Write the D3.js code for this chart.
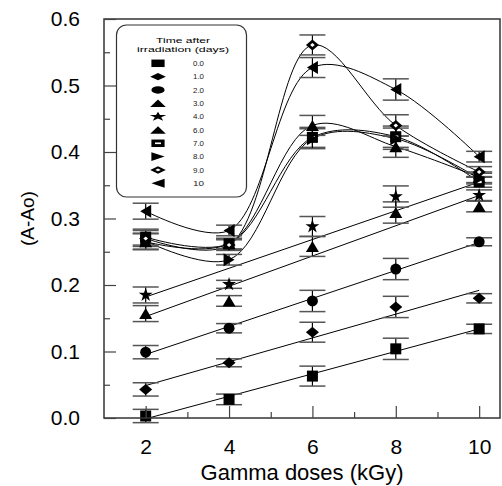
<!DOCTYPE html>
<html>
<head>
<meta charset="utf-8">
<script src="https://d3js.org/d3.v7.min.js"></script>
<style>
    body { margin: 0; background: #fff; }
    svg { font-family: "Liberation Sans", Arial, sans-serif; }
</style>
</head>
<body>
<svg id="viz" width="502" height="486"></svg>
<script>
    // data
    var doses = [2, 4, 6, 8, 10];
    var days = ["0.0", "1.0", "2.0", "3.0", "4.0", "6.0", "7.0", "8.0", "9.0", "10"];
    var symbols = ["square", "diamond", "circle", "triangle", "star", "triangle", "openSquare", "triRight", "openDiamond", "triLeft"];
    var fitType = ["line", "line", "line", "line", "line", "curve", "curve", "curve", "curve", "curve"];

    var d0 = [0.003, 0.028, 0.063, 0.104, 0.134];
    var d1 = [0.043, 0.083, 0.129, 0.167, 0.180];
    var d2 = [0.099, 0.135, 0.176, 0.224, 0.265];
    var d3v = [0.157, 0.176, 0.258, 0.309, 0.318];
    var d4 = [0.185, 0.201, 0.288, 0.333, 0.335];
    var d6 = [0.265, 0.262, 0.440, 0.408, 0.362];
    var d7 = [0.272, 0.262, 0.422, 0.423, 0.355];
    var d8 = [0.266, 0.238, 0.420, 0.420, 0.360];
    var d9 = [0.270, 0.260, 0.561, 0.440, 0.370];
    var d10 = [0.311, 0.282, 0.527, 0.494, 0.393];

    var e0 = [0.010, 0.008, 0.015, 0.016, 0.007];
    var e1 = [0.010, 0.006, 0.015, 0.016, 0.007];
    var e2 = [0.010, 0.007, 0.016, 0.016, 0.006];
    var e3 = [0.012, 0.008, 0.015, 0.016, 0.008];
    var e4 = [0.012, 0.006, 0.015, 0.016, 0.008];
    var e6 = [0.012, 0.008, 0.015, 0.016, 0.008];
    var e7 = [0.012, 0.008, 0.015, 0.016, 0.008];
    var e8 = [0.012, 0.008, 0.015, 0.016, 0.008];
    var e9 = [0.012, 0.008, 0.015, 0.016, 0.008];
    var e10 = [0.012, 0.008, 0.015, 0.016, 0.008];

    var values = [d0, d1, d2, d3v, d4, d6, d7, d8, d9, d10];
    var errors = [e0, e1, e2, e3, e4, e6, e7, e8, e9, e10];

    var yTicks = [0, 0.1, 0.2, 0.3, 0.4, 0.5, 0.6];
    var xTicks = [2, 4, 6, 8, 10];

    var margin = { left: 104, right: 2, top: 19, bottom: 68 };
    var width = 502, height = 486;
    var svg = d3.select("#viz");

    var x = d3.scaleLinear().domain([1, 10.5]).range([margin.left, width - margin.right]);
    var y = d3.scaleLinear().domain([0, 0.6]).range([height - margin.bottom, margin.top]);

    var series = values.map(function (v, i) {
        return {
            day: days[i], sym: symbols[i], fit: fitType[i],
            pts: v.map(function (val, j) { return { x: doses[j], y: val, e: errors[i][j] }; })
        };
    });

    // fits
    var lineGen = d3.line().x(function (d) { return x(d.x); }).y(function (d) { return y(d.y); });
    var curveGen = d3.line().x(function (d) { return x(d.x); }).y(function (d) { return y(d.y); }).curve(d3.curveCatmullRom.alpha(0.5));

    function regress(pts) {
        var mx = d3.mean(pts, function (d) { return d.x; });
        var my = d3.mean(pts, function (d) { return d.y; });
        var num = d3.sum(pts, function (d) { return (d.x - mx) * (d.y - my); });
        var den = d3.sum(pts, function (d) { return (d.x - mx) * (d.x - mx); });
        var b = num / den;
        return [{ x: 2, y: my + b * (2 - mx) }, { x: 10, y: my + b * (10 - mx) }];
    }

    var fits = svg.append("g").attr("fill", "none").attr("stroke", "#000").attr("stroke-width", 1);
    series.forEach(function (s) {
        if (s.fit === "line") fits.append("path").attr("d", lineGen(regress(s.pts)));
        else fits.append("path").attr("d", curveGen(s.pts));
    });

    // error bars
    var eb = svg.append("g");
    series.forEach(function (s) {
        s.pts.forEach(function (p) {
            eb.append("line").attr("x1", x(p.x)).attr("x2", x(p.x))
                .attr("y1", y(p.y - p.e)).attr("y2", y(p.y + p.e))
                .attr("stroke", "#000").attr("stroke-width", 1.2);
            [p.y - p.e, p.y + p.e].forEach(function (v) {
                eb.append("line").attr("x1", x(p.x) - 13).attr("x2", x(p.x) + 13)
                    .attr("y1", y(v)).attr("y2", y(v))
                    .attr("stroke", "#555").attr("stroke-width", 1.5);
            });
        });
    });

    // symbols drawn around (0,0), then moved / stretched with a transform
    function drawSymbol(g, sym, cx, cy, sx, sy) {
        sx = sx || 1; sy = sy || 1;
        var s = g.append("g").attr("transform", "translate(" + cx + "," + cy + ") scale(" + sx + "," + sy + ")");
        if (sym === "square" || sym === "openSquare") {
            s.append("rect").attr("x", -5.5).attr("y", -5.5).attr("width", 11).attr("height", 11).attr("fill", "#000");
            if (sym === "openSquare") s.append("rect").attr("x", -2.5).attr("y", -1.2).attr("width", 5).attr("height", 2.4).attr("fill", "#fff");
        } else if (sym === "diamond" || sym === "openDiamond") {
            s.append("path").attr("fill", "#000").attr("d", "M-6.5,0L0,-5.5L6.5,0L0,5.5Z");
            if (sym === "openDiamond") s.append("path").attr("fill", "#fff").attr("d", "M-2.3,0L0,-2L2.3,0L0,2Z");
        } else if (sym === "circle") {
            s.append("circle").attr("r", 5.5).attr("fill", "#000");
        } else if (sym === "star") {
            s.append("path").attr("fill", "#000").attr("d", d3.symbol(d3.symbolStar, 60)());
        } else {
            var rot = sym === "triangle" ? 0 : (sym === "triRight" ? 90 : -90);
            s.append("path").attr("transform", "rotate(" + rot + ")").attr("fill", "#000")
                .attr("d", "M0,-5.5L6.5,5.5L-6.5,5.5Z");
        }
    }

    var marks = svg.append("g");
    series.forEach(function (s) {
        s.pts.forEach(function (p) { drawSymbol(marks, s.sym, x(p.x), y(p.y)); });
    });

    // frame and ticks
    svg.append("rect").attr("x", x(1)).attr("y", y(0.6)).attr("width", x(10.5) - x(1)).attr("height", y(0) - y(0.6))
        .attr("fill", "none").attr("stroke", "#333").attr("stroke-width", 1.5);

    var yAxis = d3.axisLeft(y).tickValues(yTicks).tickFormat(d3.format(".1f")).tickSizeInner(-12).tickSizeOuter(0).tickPadding(24);
    svg.append("g").attr("transform", "translate(" + x(1) + ",0)").call(yAxis);
    var yMinor = d3.axisLeft(y).tickValues(d3.range(0.05, 0.6, 0.1)).tickFormat("").tickSizeInner(-6).tickSizeOuter(0);
    svg.append("g").attr("transform", "translate(" + x(1) + ",0)").call(yMinor);

    var xAxis = d3.axisBottom(x).tickValues(xTicks).tickFormat(d3.format("d")).tickSizeInner(-12).tickSizeOuter(0).tickPadding(21);
    svg.append("g").attr("transform", "translate(0," + y(0) + ")").call(xAxis);
    var xMinor = d3.axisBottom(x).tickValues([3, 5, 7, 9]).tickFormat("").tickSizeInner(-6).tickSizeOuter(0);
    svg.append("g").attr("transform", "translate(0," + y(0) + ")").call(xMinor);

    svg.selectAll(".domain").remove();
    svg.selectAll(".tick line").attr("stroke", "#444").attr("stroke-width", 1.2);
    svg.selectAll(".tick text").attr("font-size", 21).attr("fill", "#000").attr("font-family", "Liberation Sans, Arial, sans-serif");

    svg.append("text").attr("x", (x(1) + x(10.5)) / 2).attr("y", 480).attr("text-anchor", "middle")
        .attr("font-size", 22).text("Gamma doses (kGy)");
    svg.append("text").attr("transform", "translate(34," + (y(0.3)) + ") rotate(-90)").attr("text-anchor", "middle")
        .attr("font-size", 19).text("(A-Ao)");

    // legend
    var lg = svg.append("g");
    lg.append("rect").attr("x", 116.5).attr("y", 25).attr("width", 130).attr("height", 172).attr("rx", 10)
        .attr("fill", "#fff").attr("stroke", "#333").attr("stroke-width", 1.2);
    lg.append("text").attr("x", 183).attr("y", 43).attr("text-anchor", "middle").attr("font-size", 7.5)
        .attr("textLength", 54).attr("lengthAdjust", "spacingAndGlyphs").text("Time after");
    lg.append("text").attr("x", 183).attr("y", 51.5).attr("text-anchor", "middle").attr("font-size", 7.5)
        .attr("textLength", 92).attr("lengthAdjust", "spacingAndGlyphs").text("irradiation (days)");
    series.forEach(function (s, i) {
        var ry = 63.3 + i * 13.33;
        drawSymbol(lg, s.sym, 158, ry, 1.2, 0.68);
        lg.append("text").attr("x", 193).attr("y", ry + 2.7).attr("font-size", 7.5)
            .attr("textLength", 11).attr("lengthAdjust", "spacingAndGlyphs").attr("fill", "#222").text(s.day);
    });
</script>
</body>
</html>
